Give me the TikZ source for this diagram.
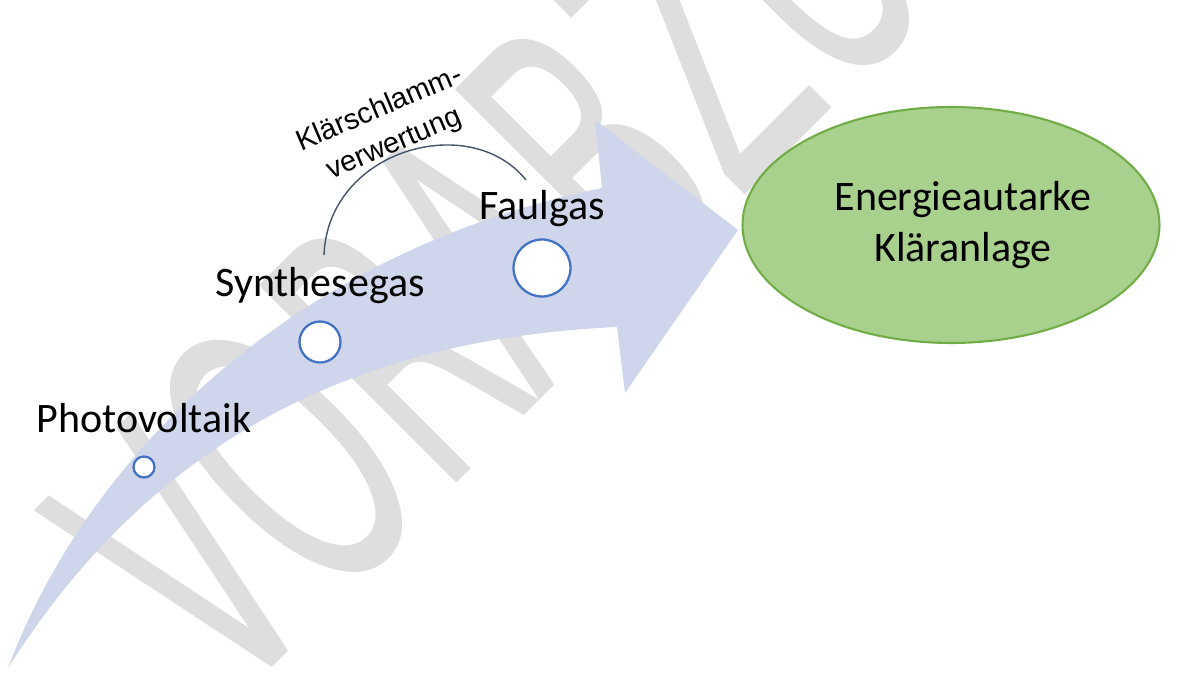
\documentclass[tikz,border=0pt]{standalone}
\usepackage{fontspec}
\setmainfont{Carlito}
\newfontfamily\arialfont{Liberation Sans}
\newfontfamily\stempelfont{DejaVu Sans}
\usepackage{tikz}
\usetikzlibrary{shapes, positioning}
\definecolor{pfeilblau}{HTML}{CFD5EA}
\definecolor{kreisblau}{HTML}{4472C4}
\definecolor{zielgruen}{HTML}{A9D18E}
\definecolor{randgruen}{HTML}{70AD47}
\definecolor{bogengrau}{HTML}{44546A}
\definecolor{stempelgrau}{HTML}{DEDEDE}
\tikzset{
    etappe/.style={circle, draw=kreisblau, fill=white, line width=1.3pt, inner sep=0pt, minimum size=#1},
    etikett/.style={font=\fontsize{23.9}{29}\selectfont, inner sep=0pt, text depth=0pt}
}

\begin{document}
\begin{tikzpicture}[x=0.02cm, y=-0.02cm]
        \useasboundingbox (0,0) rectangle (1184,675);
        \clip (0,0) rectangle (1184,675);
        \node[anchor=base west, inner sep=0pt, rotate=45, xscale=0.54, text=stempelgrau, font=\stempelfont\fontsize{218}{218}\selectfont] (stempel) at (230,710) {VORABZUG};

        \fill[pfeilblau] (8,668) .. controls (90,450) and (300,250) .. (602,188)
            -- (595,120) -- (738,230) -- (625,393) -- (617,327)
            .. controls (330,340) and (140,460) .. (8,668) -- cycle;

        \node[etappe=0.42cm, label={[etikett, label distance=0.45cm]90:Photovoltaik}] (pv) at (144,467) {};
        \node[etappe=0.82cm, label={[etikett, label distance=0.47cm]90:Synthesegas}] (syn) at (320,342) {};
        \node[etappe=1.14cm, label={[etikett, label distance=0.37cm]90:Faulgas}] (faul) at (542,268) {};

        \coordinate (bogenA) at (324,255);
        \coordinate (bogenB) at (526,180);
        \draw[bogengrau, line width=0.8pt] (bogenA) .. controls (328,150) and (470,110) .. (bogenB);
        \node[font=\arialfont\fontsize{16.5}{21.4}\selectfont, align=center, rotate=23, inner sep=0pt] (klaer) at (387,127) {Klärschlamm-\\verwertung};

        \node[ellipse, draw=randgruen, fill=zielgruen, line width=1.2pt, minimum width=8.34cm, minimum height=4.72cm, align=center, font=\fontsize{23.9}{29}\selectfont] (ziel) at (951,225) {\hspace*{0.48cm}Energieautarke\\\hspace*{0.48cm}Kläranlage};
    \end{tikzpicture}
\end{document}
